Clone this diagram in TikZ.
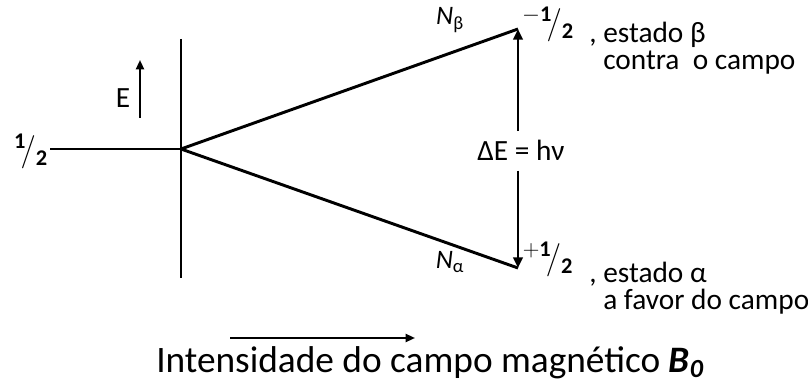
\documentclass[tikz,border=0pt]{standalone}
\usepackage{amsmath}
\usepackage{fontspec}
\setmainfont{Carlito}
\usetikzlibrary{arrows.meta,positioning}

\begin{document}
\begin{tikzpicture}[x=0.75pt, y=-0.75pt,
  lvl/.style={line width=2.2pt},
  arr/.style={-{Triangle[length=8pt, width=7pt]}, line width=2.2pt},
  thinarr/.style={-{Triangle[length=7pt, width=6pt]}, line width=1.5pt},
  lab/.style={font=\fontsize{22}{26}\selectfont, inner sep=0pt},
  state/.style={font=\fontsize{22}{20}\selectfont, align=left, inner sep=0pt, anchor=west},
  nlab/.style={font=\fontsize{20}{24}\selectfont, inner sep=0pt},
  big/.style={font=\fontsize{28}{34}\selectfont, inner sep=0pt},
  frac/.style={font=\fontsize{24}{28}\selectfont, inner sep=0pt}
]
\useasboundingbox (0,0) rectangle (808,385);
% levels
\coordinate (o) at (181,149);
\coordinate (up) at (518,29);
\coordinate (lo) at (518,268);
\coordinate (axT) at (181,39);
\coordinate (axB) at (181,278);
\coordinate (lft) at (50,149);
\draw[lvl] (axT) -- (axB);
\draw[lvl] (lft) -- (o);
\draw[lvl] (o) -- (up);
\draw[lvl] (o) -- (lo);
% energy gap
\node[lab, inner ysep=7pt, anchor=base] (de) at (521,161) {ΔE = hν};
\draw[arr] (de.north -| up) -- (up);
\draw[arr] (de.south -| lo) -- (lo);
% energy axis
\coordinate (eB) at (140,118);
\coordinate (eT) at (140,60);
\draw[thinarr] (eB) -- (eT);
\node[lab, anchor=base] (e) at (123,108) {E};
% spin labels
\node[frac] (half) at (31,151) {$^{\mathbf{1}}\!/_{\mathbf{2}}$};
\node[nlab, anchor=base] (nb) at (450,25) {\textit{N}\textsubscript{β}};
\node[nlab, anchor=base] (na) at (450,268) {\textit{N}\textsubscript{α}};
\node[frac] (mh) at (548,24) {$^{-\mathbf{1}}\!/_{\mathbf{2}}$};
\node[frac] (ph) at (548,259) {$^{+\mathbf{1}}\!/_{\mathbf{2}}$};
\node[state] (sb) at (603,48) {\llap{,\ }estado β\\contra\ \ o campo};
\node[state] (sa) at (603,288) {\llap{,\ }estado α\\a favor do campo};
% field
\coordinate (bA) at (230,338);
\coordinate (bB) at (415,338);
\draw[thinarr] (bA) -- (bB);
\node[big, anchor=base] (field) at (430,372) {Intensidade do campo magnético \textbf{\textit{B\textsubscript{0}}}};
\end{tikzpicture}
\end{document}
